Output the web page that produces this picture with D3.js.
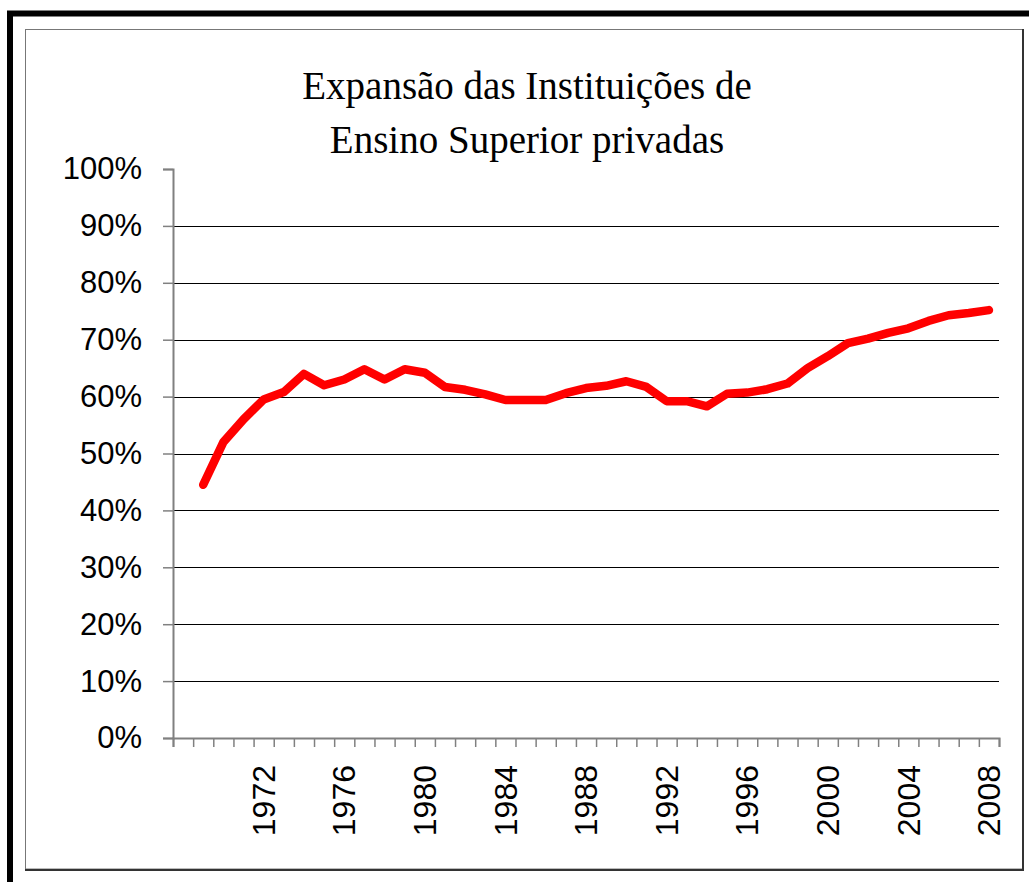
<!DOCTYPE html>
<html>
<head>
<meta charset="utf-8">
<script src="https://cdn.jsdelivr.net/npm/d3@7"></script>
<style>
body{margin:0;background:#fff}
svg{display:block}
</style>
</head>
<body>
<svg></svg>
<script>
var years=[1968,1969,1970,1971,1972,1973,1974,1975,1976,1977,1978,1979,1980,1981,1982,1983,1984,1985,1986,1987,1988,
  1989,1990,1991,1992,1993,1994,1995,1996,1997,1998,1999,2000,2001,2002,2003,2004,2005,2006,2007,2008]
// share of private institutions (%), first category has no value
var privadas=[null,44.5,52.0,56.0,59.5,60.8,64.0,62.0,63.0,64.8,63.0,64.8,64.2,61.7,61.2,60.4,59.4,59.4,59.4,60.6,61.5,
  61.9,62.7,61.7,59.2,59.2,58.3,60.5,60.7,61.3,62.3,65.0,67.1,69.4,70.2,71.2,72.0,73.3,74.3,74.7,75.2]
var yearLabels=[1972,1976,1980,1984,1988,1992,1996,2000,2004,2008]
var percentTicks=[0,10,20,30,40,50,60,70,80,90,100]
var titleLines=["Expansão das Instituições de","Ensino Superior privadas"]

var screen={width:1029,height:882}
var plot={left:173,right:999,top:169,bottom:738}

var svg=d3.select("svg")
  .attr("width",screen.width)
  .attr("height",screen.height)

// frames
svg.append("rect")
  .attr("x",10).attr("y",13.5)
  .attr("width",1100).attr("height",950)
  .attr("fill","none").attr("stroke","black").attr("stroke-width",6)
svg.append("rect")
  .attr("x",25.5).attr("y",29.5)
  .attr("width",997).attr("height",839.5)
  .attr("fill","none").attr("stroke","#777").attr("stroke-width",1)
svg.append("path")
  .attr("d","M1023,29 V870 H25")
  .attr("fill","none").attr("stroke","#333").attr("stroke-width",2)

var xScale=d3.scaleBand()
  .domain(years)
  .range([plot.left,plot.right])
  .padding(0)
var tickScale=d3.scaleLinear()
  .domain([0,years.length])
  .range([plot.left,plot.right])
var yScale=d3.scaleLinear()
  .domain([0,100])
  .range([plot.bottom,plot.top])

// gridlines
svg.append("g")
  .selectAll("line")
  .data(percentTicks.filter(function(d){return d>0 && d<100}))
  .enter()
  .append("line")
  .attr("x1",plot.left).attr("x2",plot.right)
  .attr("y1",function(d){return Math.round(yScale(d))+0.5})
  .attr("y2",function(d){return Math.round(yScale(d))+0.5})
  .attr("stroke","black").attr("stroke-width",1)

// y axis
var yAxis=svg.append("g")
  .attr("transform","translate("+plot.left+",0)")
  .call(d3.axisLeft(yScale).tickValues(percentTicks).tickSize(10).tickPadding(21)
    .tickFormat(function(d){return d+"%"}))
yAxis.select(".domain").attr("stroke","#808080").attr("stroke-width",2)
yAxis.selectAll(".tick line").attr("stroke","#808080").attr("stroke-width",1.5)
yAxis.selectAll("text")
  .attr("fill","black")
  .style("font-family","'Liberation Sans',Arial,sans-serif")
  .style("font-size","31px")

// x axis ticks between categories
var xAxis=svg.append("g")
  .attr("transform","translate(0,"+plot.bottom+")")
  .call(d3.axisBottom(tickScale).tickValues(d3.range(years.length+1)).tickSize(9).tickFormat(""))
xAxis.select(".domain").attr("stroke","#808080").attr("stroke-width",2)
xAxis.selectAll(".tick line").attr("stroke","#808080").attr("stroke-width",1.5)

// x labels, rotated
svg.append("g")
  .selectAll("text")
  .data(yearLabels)
  .enter()
  .append("text")
  .attr("transform",function(d){return "translate("+(xScale(d)+xScale.bandwidth()/2)+",765) rotate(-90)"})
  .attr("text-anchor","end")
  .attr("dy","0.35em")
  .style("font-family","'Liberation Sans',Arial,sans-serif")
  .style("font-size","32px")
  .text(function(d){return d})

// the line
var line=d3.line()
  .defined(function(d){return d!=null})
  .x(function(d,i){return xScale(years[i])+xScale.bandwidth()/2})
  .y(function(d){return yScale(d)})
svg.append("path")
  .datum(privadas)
  .attr("d",line)
  .attr("fill","none")
  .attr("stroke","#ff0000")
  .attr("stroke-width",8.5)
  .attr("stroke-linejoin","round")
  .attr("stroke-linecap","round")

// title
svg.append("g")
  .selectAll("text")
  .data(titleLines)
  .enter()
  .append("text")
  .attr("x",527)
  .attr("y",function(d,i){return 99+i*54})
  .attr("text-anchor","middle")
  .style("font-family","'Liberation Serif','Times New Roman',serif")
  .style("font-size","39px")
  .text(function(d){return d})
</script>
</body>
</html>
